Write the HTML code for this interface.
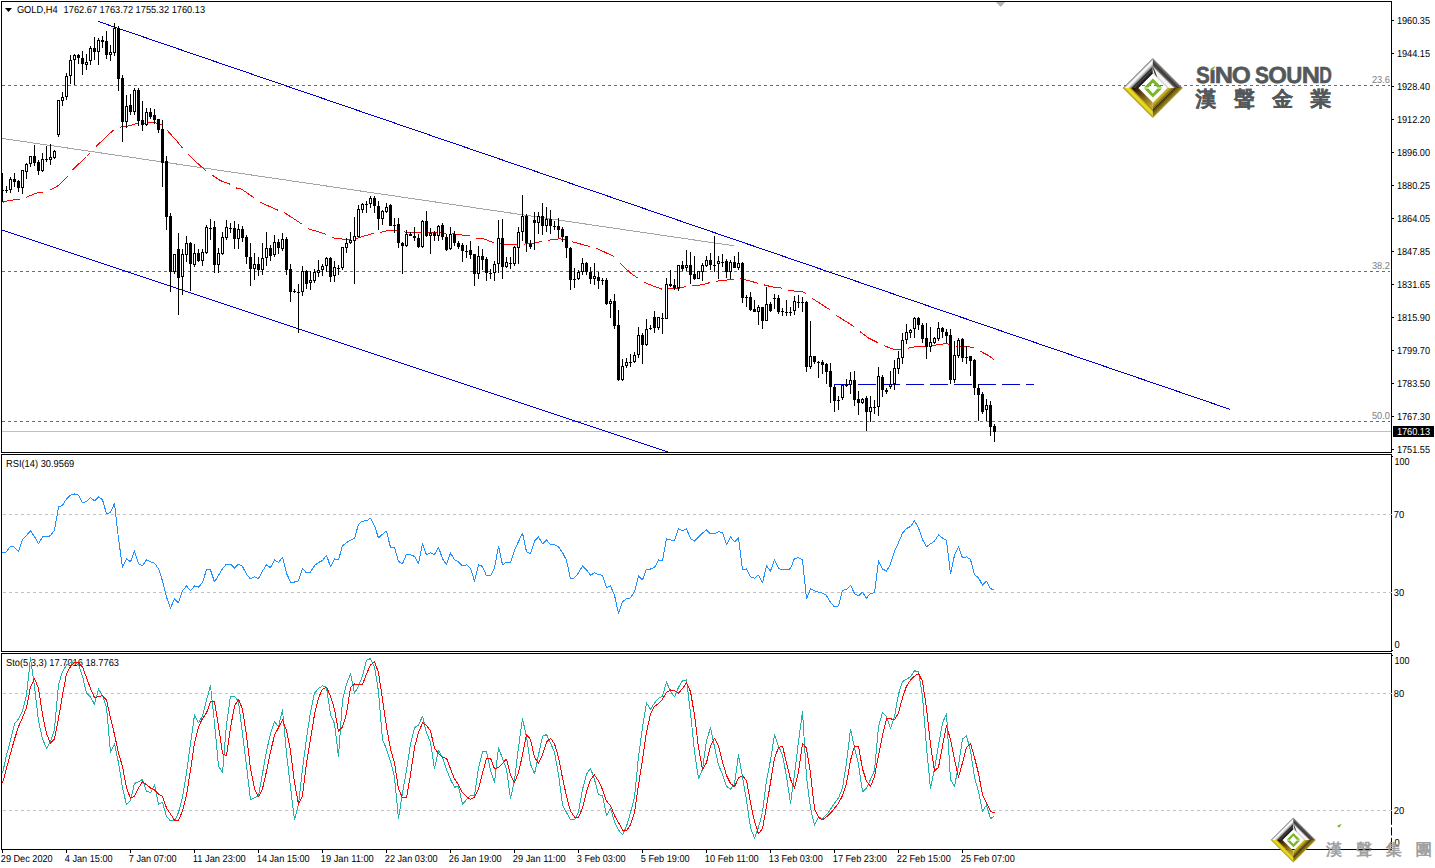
<!DOCTYPE html>
<html lang="zh-Hant"><head><meta charset="utf-8"><title>GOLD,H4</title>
<style>
html,body{margin:0;padding:0;background:#fff;}
body{width:1435px;height:868px;overflow:hidden;font-family:"Liberation Sans", Arial, sans-serif;}
svg{display:block;}
text{font-family:"Liberation Sans", Arial, sans-serif;text-rendering:geometricPrecision;}
</style></head><body>
<svg width="1435" height="868" viewBox="0 0 1435 868">
<rect width="1435" height="868" fill="#fff"/>
<g shape-rendering="crispEdges">
<rect x="1" y="1" width="1391" height="1" fill="#000"/>
<rect x="1" y="1" width="1" height="452" fill="#000"/>
<rect x="1" y="452" width="1391" height="1" fill="#000"/>
<rect x="1391" y="1" width="1" height="452" fill="#000"/>
<rect x="1391" y="454" width="1" height="198" fill="#000"/>
<rect x="1391" y="653" width="1" height="197" fill="#000"/>
<rect x="1" y="454" width="1391" height="1" fill="#000"/>
<rect x="1" y="454" width="1" height="198" fill="#000"/>
<rect x="1" y="651" width="1391" height="1" fill="#000"/>
<rect x="1" y="653" width="1391" height="1" fill="#000"/>
<rect x="1" y="653" width="1" height="197" fill="#000"/>
<rect x="1" y="849" width="1391" height="1" fill="#000"/>
</g>
<g shape-rendering="crispEdges">
<line x1="2" y1="85.5" x2="1390" y2="85.5" stroke="#6c6c6c" stroke-width="1" stroke-dasharray="3 3"/>
<line x1="2" y1="271.5" x2="1390" y2="271.5" stroke="#6c6c6c" stroke-width="1" stroke-dasharray="3 3"/>
<line x1="2" y1="421.5" x2="1390" y2="421.5" stroke="#6c6c6c" stroke-width="1" stroke-dasharray="3 3"/>
<rect x="2" y="431" width="1389" height="1" fill="#c0c0c0"/>
<line x1="3" y1="514.5" x2="1392" y2="514.5" stroke="#c0c0c0" stroke-width="1" stroke-dasharray="3 3"/>
<line x1="3" y1="592.5" x2="1392" y2="592.5" stroke="#c0c0c0" stroke-width="1" stroke-dasharray="3 3"/>
<line x1="3" y1="693.5" x2="1392" y2="693.5" stroke="#c0c0c0" stroke-width="1" stroke-dasharray="3 3"/>
<line x1="3" y1="810.5" x2="1392" y2="810.5" stroke="#c0c0c0" stroke-width="1" stroke-dasharray="3 3"/>
</g>
<g shape-rendering="crispEdges" fill="none">
<line x1="2" y1="138.4" x2="734" y2="245.8" stroke="#a4a4a4" stroke-width="1"/>
<line x1="98" y1="21.4" x2="1229.9" y2="409.3" stroke="#0000cd" stroke-width="1"/>
<line x1="2" y1="230" x2="667.6" y2="451.87" stroke="#0000cd" stroke-width="1"/>
<line x1="834" y1="384.5" x2="1034" y2="384.5" stroke="#0000cd" stroke-width="1" stroke-dasharray="18 6"/>
</g>
<g shape-rendering="crispEdges" fill="none" stroke="#ff0000" stroke-width="1">
<polyline points="2.5,202.3 4.5,201.7 6.5,201.1 8.5,200.5 10.5,200.3 12.5,200.1 14.5,199.8 16.5,199.6 18.5,199.4 19.5,199.3"/>
<polyline points="25.5,197.4 27.5,196.7 29.5,195.9 31.5,195.1 33.5,194.2 35.5,193.4 37.5,192.8 39.5,192.5 41.5,192.2 43.5,191.9 43.5,191.9"/>
<polyline points="49.5,190.2 51.5,189.3 53.5,188.2 55.5,187.1 57.5,186.0 59.5,184.4 61.4,182.5 63.3,180.6 65.2,178.6 67.1,176.7 67.6,176.2"/>
<polyline points="72.7,170.0 74.5,168.1 76.5,166.2 78.5,164.2 80.5,162.3 82.5,160.4 84.5,158.4 86.5,156.5 88.5,154.5 90.5,152.6 90.5,152.6"/>
<polyline points="96.1,146.6 98.0,144.6 99.9,142.8 101.9,140.9 103.8,139.0 105.8,137.2 107.7,135.3 109.7,133.5 111.7,131.8 113.6,130.1 114.1,129.7"/>
<polyline points="120.0,127.2 122.0,126.7 124.0,126.5 126.0,126.2 128.0,126.0 130.0,125.5 132.0,124.9 134.0,124.2 136.0,123.8 137.9,123.7 137.9,123.7"/>
<polyline points="143.8,123.2 145.8,123.0 147.7,122.8 149.7,122.8 151.7,122.8 153.7,122.8 155.7,122.9 157.6,123.5 159.5,124.0 161.5,124.5 161.9,124.6"/>
<polyline points="166.9,129.8 168.5,131.8 170.3,133.8 172.1,135.8 173.9,137.7 175.7,139.7 177.3,141.6 178.9,143.6 180.4,145.5 182.0,147.4 182.4,147.9"/>
<polyline points="188.0,154.1 189.8,156.0 191.7,157.8 193.7,159.6 195.6,161.4 197.6,163.3 199.5,165.1 201.5,166.8 203.4,168.4 205.3,170.0 205.8,170.3"/>
<polyline points="211.8,174.8 212.5,175.3 220.5,180.6 229.8,184.1"/>
<polyline points="235.8,187.6 237.5,188.6 241.5,189.1 253.8,197.6"/>
<polyline points="259.8,201.8 261.3,202.8 277.8,210.1"/>
<polyline points="283.8,212.6 285.5,213.3 301.8,224.0"/>
<polyline points="307.8,228.0 309.5,229.1 325.8,234.2"/>
<polyline points="331.8,237.0 333.5,237.9 340.5,238.8 349.8,240.0"/>
<polyline points="355.8,238.6 357.9,237.9 373.8,233.2"/>
<polyline points="379.8,232.3 381.5,232.1 387.9,230.4 397.8,230.4"/>
<polyline points="403.8,231.6 405.7,232.1 417.2,232.1 421.8,232.1"/>
<polyline points="427.8,232.1 429.5,232.1 445.8,233.1"/>
<polyline points="451.8,233.7 454.1,233.9 463.1,235.1 469.8,235.8"/>
<polyline points="475.8,237.9 477.8,238.8 484.1,239.0 493.8,242.7"/>
<polyline points="499.8,243.7 501.5,243.9 507.7,244.9 517.8,244.9"/>
<polyline points="523.8,244.2 525.6,243.9 532.8,243.5 536.8,242.1 541.8,241.9"/>
<polyline points="547.8,240.6 549.7,240.0 558.4,238.9 565.8,239.2"/>
<polyline points="571.8,241.4 573.4,242.1 589.8,246.5"/>
<polyline points="595.8,248.3 597.7,248.8 613.8,256.4"/>
<polyline points="619.8,262.5 620.8,263.7 630.8,273.4 637.8,278.0"/>
<polyline points="643.8,281.9 644.8,282.5 653.1,286.0 661.8,289.1"/>
<polyline points="667.8,288.9 668.5,288.9 678.2,288.3 685.8,286.7"/>
<polyline points="691.8,286.1 692.5,286.0 703.3,284.6 709.8,282.6"/>
<polyline points="715.8,281.3 716.6,281.1 724.2,280.4 730.5,279.4 733.8,279.1"/>
<polyline points="739.8,278.7 740.7,278.7 757.8,283.1"/>
<polyline points="763.8,284.8 764.8,285.1 772.1,286.9 781.8,288.1"/>
<polyline points="787.8,290.0 788.5,290.2 794.4,291.1 802.7,291.8 805.8,293.7"/>
<polyline points="811.8,298.0 812.5,298.5 829.8,309.7"/>
<polyline points="835.8,314.8 836.9,315.8 853.8,326.4"/>
<polyline points="859.8,331.4 860.5,332.0 868.2,337.8 877.8,342.6"/>
<polyline points="883.8,345.5 884.7,345.9 893.3,349.2 901.7,350.1 901.8,350.1"/>
<polyline points="907.8,348.3 908.7,348.0 918.1,346.1 925.8,346.1"/>
<polyline points="931.8,345.5 936.5,345.0 946.5,343.5 949.5,344.5 949.8,344.6"/>
<polyline points="955.8,345.9 956.5,346.1 967.2,346.5 973.8,347.7"/>
<polyline points="979.8,351.0 980.7,351.5 988.7,355.7 994.3,360.0"/>
</g>
<g shape-rendering="crispEdges">
<rect x="2" y="173" width="1" height="29" fill="#000"/>
<rect x="3" y="190" width="1" height="1" fill="#000"/>
<rect x="6" y="186" width="1" height="7" fill="#000"/>
<rect x="5" y="190" width="3" height="1" fill="#000"/>
<rect x="10" y="177" width="1" height="16" fill="#000"/>
<rect x="9" y="179" width="3" height="11" fill="#000"/>
<rect x="10" y="180" width="1" height="9" fill="#fff"/>
<rect x="14" y="173" width="1" height="14" fill="#000"/>
<rect x="13" y="179" width="3" height="3" fill="#000"/>
<rect x="18" y="180" width="1" height="12" fill="#000"/>
<rect x="17" y="181" width="3" height="7" fill="#000"/>
<rect x="22" y="170" width="1" height="24" fill="#000"/>
<rect x="21" y="170" width="3" height="18" fill="#000"/>
<rect x="22" y="171" width="1" height="16" fill="#fff"/>
<rect x="26" y="163" width="1" height="16" fill="#000"/>
<rect x="25" y="164" width="3" height="8" fill="#000"/>
<rect x="26" y="165" width="1" height="6" fill="#fff"/>
<rect x="30" y="156" width="1" height="11" fill="#000"/>
<rect x="29" y="156" width="3" height="8" fill="#000"/>
<rect x="30" y="157" width="1" height="6" fill="#fff"/>
<rect x="34" y="145" width="1" height="21" fill="#000"/>
<rect x="33" y="156" width="3" height="7" fill="#000"/>
<rect x="38" y="160" width="1" height="15" fill="#000"/>
<rect x="37" y="162" width="3" height="9" fill="#000"/>
<rect x="42" y="153" width="1" height="19" fill="#000"/>
<rect x="41" y="159" width="3" height="12" fill="#000"/>
<rect x="42" y="160" width="1" height="10" fill="#fff"/>
<rect x="46" y="146" width="1" height="16" fill="#000"/>
<rect x="45" y="159" width="3" height="1" fill="#000"/>
<rect x="50" y="144" width="1" height="21" fill="#000"/>
<rect x="49" y="157" width="3" height="3" fill="#000"/>
<rect x="50" y="158" width="1" height="1" fill="#fff"/>
<rect x="54" y="150" width="1" height="9" fill="#000"/>
<rect x="53" y="151" width="3" height="7" fill="#000"/>
<rect x="54" y="152" width="1" height="5" fill="#fff"/>
<rect x="58" y="100" width="1" height="37" fill="#000"/>
<rect x="57" y="100" width="3" height="35" fill="#000"/>
<rect x="58" y="101" width="1" height="33" fill="#fff"/>
<rect x="62" y="92" width="1" height="14" fill="#000"/>
<rect x="61" y="97" width="3" height="4" fill="#000"/>
<rect x="62" y="98" width="1" height="2" fill="#fff"/>
<rect x="66" y="73" width="1" height="27" fill="#000"/>
<rect x="65" y="76" width="3" height="21" fill="#000"/>
<rect x="66" y="77" width="1" height="19" fill="#fff"/>
<rect x="70" y="55" width="1" height="29" fill="#000"/>
<rect x="69" y="60" width="3" height="16" fill="#000"/>
<rect x="70" y="61" width="1" height="14" fill="#fff"/>
<rect x="74" y="54" width="1" height="31" fill="#000"/>
<rect x="73" y="55" width="3" height="5" fill="#000"/>
<rect x="74" y="56" width="1" height="3" fill="#fff"/>
<rect x="78" y="54" width="1" height="10" fill="#000"/>
<rect x="77" y="55" width="3" height="3" fill="#000"/>
<rect x="82" y="51" width="1" height="24" fill="#000"/>
<rect x="81" y="58" width="3" height="6" fill="#000"/>
<rect x="86" y="54" width="1" height="16" fill="#000"/>
<rect x="85" y="62" width="3" height="3" fill="#000"/>
<rect x="86" y="63" width="1" height="1" fill="#fff"/>
<rect x="90" y="46" width="1" height="19" fill="#000"/>
<rect x="89" y="48" width="3" height="13" fill="#000"/>
<rect x="90" y="49" width="1" height="11" fill="#fff"/>
<rect x="94" y="37" width="1" height="23" fill="#000"/>
<rect x="93" y="48" width="3" height="4" fill="#000"/>
<rect x="98" y="38" width="1" height="27" fill="#000"/>
<rect x="97" y="40" width="3" height="12" fill="#000"/>
<rect x="98" y="41" width="1" height="10" fill="#fff"/>
<rect x="102" y="36" width="1" height="12" fill="#000"/>
<rect x="101" y="40" width="3" height="2" fill="#000"/>
<rect x="106" y="31" width="1" height="28" fill="#000"/>
<rect x="105" y="41" width="3" height="14" fill="#000"/>
<rect x="110" y="45" width="1" height="16" fill="#000"/>
<rect x="109" y="52" width="3" height="3" fill="#000"/>
<rect x="110" y="53" width="1" height="1" fill="#fff"/>
<rect x="114" y="23" width="1" height="33" fill="#000"/>
<rect x="113" y="28" width="3" height="25" fill="#000"/>
<rect x="114" y="29" width="1" height="23" fill="#fff"/>
<rect x="118" y="26" width="1" height="65" fill="#000"/>
<rect x="117" y="28" width="3" height="51" fill="#000"/>
<rect x="122" y="75" width="1" height="67" fill="#000"/>
<rect x="121" y="78" width="3" height="44" fill="#000"/>
<rect x="126" y="95" width="1" height="33" fill="#000"/>
<rect x="125" y="106" width="3" height="16" fill="#000"/>
<rect x="126" y="107" width="1" height="14" fill="#fff"/>
<rect x="130" y="94" width="1" height="21" fill="#000"/>
<rect x="129" y="105" width="3" height="7" fill="#000"/>
<rect x="134" y="88" width="1" height="27" fill="#000"/>
<rect x="133" y="90" width="3" height="22" fill="#000"/>
<rect x="134" y="91" width="1" height="20" fill="#fff"/>
<rect x="138" y="88" width="1" height="38" fill="#000"/>
<rect x="137" y="90" width="3" height="31" fill="#000"/>
<rect x="142" y="101" width="1" height="30" fill="#000"/>
<rect x="141" y="120" width="3" height="5" fill="#000"/>
<rect x="146" y="108" width="1" height="18" fill="#000"/>
<rect x="145" y="112" width="3" height="13" fill="#000"/>
<rect x="146" y="113" width="1" height="11" fill="#fff"/>
<rect x="150" y="108" width="1" height="11" fill="#000"/>
<rect x="149" y="112" width="3" height="5" fill="#000"/>
<rect x="154" y="109" width="1" height="15" fill="#000"/>
<rect x="153" y="115" width="3" height="5" fill="#000"/>
<rect x="158" y="119" width="1" height="14" fill="#000"/>
<rect x="157" y="119" width="3" height="11" fill="#000"/>
<rect x="162" y="120" width="1" height="67" fill="#000"/>
<rect x="161" y="129" width="3" height="34" fill="#000"/>
<rect x="166" y="156" width="1" height="74" fill="#000"/>
<rect x="165" y="161" width="3" height="56" fill="#000"/>
<rect x="170" y="213" width="1" height="79" fill="#000"/>
<rect x="169" y="216" width="3" height="56" fill="#000"/>
<rect x="174" y="254" width="1" height="20" fill="#000"/>
<rect x="173" y="254" width="3" height="18" fill="#000"/>
<rect x="174" y="255" width="1" height="16" fill="#fff"/>
<rect x="178" y="233" width="1" height="82" fill="#000"/>
<rect x="177" y="249" width="3" height="29" fill="#000"/>
<rect x="182" y="249" width="1" height="46" fill="#000"/>
<rect x="181" y="254" width="3" height="23" fill="#000"/>
<rect x="182" y="255" width="1" height="21" fill="#fff"/>
<rect x="186" y="236" width="1" height="26" fill="#000"/>
<rect x="185" y="243" width="3" height="12" fill="#000"/>
<rect x="186" y="244" width="1" height="10" fill="#fff"/>
<rect x="190" y="242" width="1" height="49" fill="#000"/>
<rect x="189" y="243" width="3" height="21" fill="#000"/>
<rect x="194" y="244" width="1" height="23" fill="#000"/>
<rect x="193" y="253" width="3" height="12" fill="#000"/>
<rect x="194" y="254" width="1" height="10" fill="#fff"/>
<rect x="198" y="249" width="1" height="13" fill="#000"/>
<rect x="197" y="253" width="3" height="8" fill="#000"/>
<rect x="202" y="249" width="1" height="17" fill="#000"/>
<rect x="201" y="252" width="3" height="9" fill="#000"/>
<rect x="202" y="253" width="1" height="7" fill="#fff"/>
<rect x="206" y="225" width="1" height="29" fill="#000"/>
<rect x="205" y="227" width="3" height="26" fill="#000"/>
<rect x="206" y="228" width="1" height="24" fill="#fff"/>
<rect x="210" y="219" width="1" height="21" fill="#000"/>
<rect x="209" y="228" width="3" height="1" fill="#000"/>
<rect x="214" y="221" width="1" height="52" fill="#000"/>
<rect x="213" y="227" width="3" height="38" fill="#000"/>
<rect x="218" y="248" width="1" height="25" fill="#000"/>
<rect x="217" y="253" width="3" height="12" fill="#000"/>
<rect x="218" y="254" width="1" height="10" fill="#fff"/>
<rect x="222" y="232" width="1" height="23" fill="#000"/>
<rect x="221" y="237" width="3" height="17" fill="#000"/>
<rect x="222" y="238" width="1" height="15" fill="#fff"/>
<rect x="226" y="220" width="1" height="20" fill="#000"/>
<rect x="225" y="227" width="3" height="11" fill="#000"/>
<rect x="226" y="228" width="1" height="9" fill="#fff"/>
<rect x="230" y="223" width="1" height="10" fill="#000"/>
<rect x="229" y="228" width="3" height="1" fill="#000"/>
<rect x="234" y="221" width="1" height="28" fill="#000"/>
<rect x="233" y="228" width="3" height="11" fill="#000"/>
<rect x="238" y="224" width="1" height="25" fill="#000"/>
<rect x="237" y="229" width="3" height="10" fill="#000"/>
<rect x="238" y="230" width="1" height="8" fill="#fff"/>
<rect x="242" y="226" width="1" height="16" fill="#000"/>
<rect x="241" y="229" width="3" height="9" fill="#000"/>
<rect x="246" y="235" width="1" height="29" fill="#000"/>
<rect x="245" y="237" width="3" height="20" fill="#000"/>
<rect x="250" y="243" width="1" height="43" fill="#000"/>
<rect x="249" y="257" width="3" height="12" fill="#000"/>
<rect x="254" y="253" width="1" height="27" fill="#000"/>
<rect x="253" y="264" width="3" height="5" fill="#000"/>
<rect x="254" y="265" width="1" height="3" fill="#fff"/>
<rect x="258" y="257" width="1" height="19" fill="#000"/>
<rect x="257" y="264" width="3" height="6" fill="#000"/>
<rect x="262" y="243" width="1" height="32" fill="#000"/>
<rect x="261" y="258" width="3" height="12" fill="#000"/>
<rect x="262" y="259" width="1" height="10" fill="#fff"/>
<rect x="266" y="232" width="1" height="34" fill="#000"/>
<rect x="265" y="248" width="3" height="10" fill="#000"/>
<rect x="266" y="249" width="1" height="8" fill="#fff"/>
<rect x="270" y="245" width="1" height="16" fill="#000"/>
<rect x="269" y="248" width="3" height="8" fill="#000"/>
<rect x="274" y="235" width="1" height="22" fill="#000"/>
<rect x="273" y="242" width="3" height="13" fill="#000"/>
<rect x="274" y="243" width="1" height="11" fill="#fff"/>
<rect x="278" y="239" width="1" height="15" fill="#000"/>
<rect x="277" y="242" width="3" height="6" fill="#000"/>
<rect x="282" y="233" width="1" height="18" fill="#000"/>
<rect x="281" y="239" width="3" height="10" fill="#000"/>
<rect x="282" y="240" width="1" height="8" fill="#fff"/>
<rect x="286" y="237" width="1" height="38" fill="#000"/>
<rect x="285" y="239" width="3" height="31" fill="#000"/>
<rect x="290" y="264" width="1" height="38" fill="#000"/>
<rect x="289" y="269" width="3" height="23" fill="#000"/>
<rect x="294" y="289" width="1" height="4" fill="#000"/>
<rect x="293" y="291" width="3" height="1" fill="#000"/>
<rect x="298" y="284" width="1" height="49" fill="#000"/>
<rect x="297" y="292" width="3" height="1" fill="#000"/>
<rect x="302" y="266" width="1" height="30" fill="#000"/>
<rect x="301" y="271" width="3" height="21" fill="#000"/>
<rect x="302" y="272" width="1" height="19" fill="#fff"/>
<rect x="306" y="270" width="1" height="19" fill="#000"/>
<rect x="305" y="271" width="3" height="13" fill="#000"/>
<rect x="310" y="271" width="1" height="19" fill="#000"/>
<rect x="309" y="280" width="3" height="3" fill="#000"/>
<rect x="310" y="281" width="1" height="1" fill="#fff"/>
<rect x="314" y="269" width="1" height="14" fill="#000"/>
<rect x="313" y="272" width="3" height="9" fill="#000"/>
<rect x="314" y="273" width="1" height="7" fill="#fff"/>
<rect x="318" y="260" width="1" height="17" fill="#000"/>
<rect x="317" y="270" width="3" height="3" fill="#000"/>
<rect x="318" y="271" width="1" height="1" fill="#fff"/>
<rect x="322" y="264" width="1" height="12" fill="#000"/>
<rect x="321" y="266" width="3" height="4" fill="#000"/>
<rect x="322" y="267" width="1" height="2" fill="#fff"/>
<rect x="326" y="257" width="1" height="15" fill="#000"/>
<rect x="325" y="258" width="3" height="8" fill="#000"/>
<rect x="326" y="259" width="1" height="6" fill="#fff"/>
<rect x="330" y="257" width="1" height="25" fill="#000"/>
<rect x="329" y="258" width="3" height="19" fill="#000"/>
<rect x="334" y="261" width="1" height="21" fill="#000"/>
<rect x="333" y="267" width="3" height="9" fill="#000"/>
<rect x="334" y="268" width="1" height="7" fill="#fff"/>
<rect x="338" y="265" width="1" height="10" fill="#000"/>
<rect x="337" y="268" width="3" height="1" fill="#000"/>
<rect x="342" y="247" width="1" height="23" fill="#000"/>
<rect x="341" y="247" width="3" height="21" fill="#000"/>
<rect x="342" y="248" width="1" height="19" fill="#fff"/>
<rect x="346" y="238" width="1" height="15" fill="#000"/>
<rect x="345" y="243" width="3" height="5" fill="#000"/>
<rect x="346" y="244" width="1" height="3" fill="#fff"/>
<rect x="350" y="232" width="1" height="12" fill="#000"/>
<rect x="349" y="240" width="3" height="3" fill="#000"/>
<rect x="350" y="241" width="1" height="1" fill="#fff"/>
<rect x="354" y="217" width="1" height="67" fill="#000"/>
<rect x="353" y="236" width="3" height="5" fill="#000"/>
<rect x="354" y="237" width="1" height="3" fill="#fff"/>
<rect x="358" y="205" width="1" height="32" fill="#000"/>
<rect x="357" y="209" width="3" height="28" fill="#000"/>
<rect x="358" y="210" width="1" height="26" fill="#fff"/>
<rect x="362" y="203" width="1" height="10" fill="#000"/>
<rect x="361" y="204" width="3" height="6" fill="#000"/>
<rect x="362" y="205" width="1" height="4" fill="#fff"/>
<rect x="366" y="201" width="1" height="12" fill="#000"/>
<rect x="365" y="204" width="3" height="1" fill="#000"/>
<rect x="370" y="196" width="1" height="12" fill="#000"/>
<rect x="369" y="198" width="3" height="6" fill="#000"/>
<rect x="370" y="199" width="1" height="4" fill="#fff"/>
<rect x="374" y="196" width="1" height="17" fill="#000"/>
<rect x="373" y="198" width="3" height="8" fill="#000"/>
<rect x="378" y="201" width="1" height="29" fill="#000"/>
<rect x="377" y="206" width="3" height="13" fill="#000"/>
<rect x="382" y="210" width="1" height="15" fill="#000"/>
<rect x="381" y="211" width="3" height="8" fill="#000"/>
<rect x="382" y="212" width="1" height="6" fill="#fff"/>
<rect x="386" y="203" width="1" height="10" fill="#000"/>
<rect x="385" y="207" width="3" height="5" fill="#000"/>
<rect x="386" y="208" width="1" height="3" fill="#fff"/>
<rect x="390" y="204" width="1" height="22" fill="#000"/>
<rect x="389" y="205" width="3" height="21" fill="#000"/>
<rect x="394" y="218" width="1" height="15" fill="#000"/>
<rect x="393" y="225" width="3" height="1" fill="#000"/>
<rect x="398" y="218" width="1" height="30" fill="#000"/>
<rect x="397" y="224" width="3" height="19" fill="#000"/>
<rect x="402" y="242" width="1" height="32" fill="#000"/>
<rect x="401" y="243" width="3" height="3" fill="#000"/>
<rect x="406" y="230" width="1" height="17" fill="#000"/>
<rect x="405" y="234" width="3" height="12" fill="#000"/>
<rect x="406" y="235" width="1" height="10" fill="#fff"/>
<rect x="410" y="232" width="1" height="4" fill="#000"/>
<rect x="409" y="234" width="3" height="2" fill="#000"/>
<rect x="414" y="227" width="1" height="14" fill="#000"/>
<rect x="413" y="236" width="3" height="2" fill="#000"/>
<rect x="418" y="234" width="1" height="14" fill="#000"/>
<rect x="417" y="238" width="3" height="9" fill="#000"/>
<rect x="422" y="220" width="1" height="28" fill="#000"/>
<rect x="421" y="221" width="3" height="26" fill="#000"/>
<rect x="422" y="222" width="1" height="24" fill="#fff"/>
<rect x="426" y="211" width="1" height="26" fill="#000"/>
<rect x="425" y="221" width="3" height="15" fill="#000"/>
<rect x="430" y="228" width="1" height="26" fill="#000"/>
<rect x="429" y="233" width="3" height="3" fill="#000"/>
<rect x="430" y="234" width="1" height="1" fill="#fff"/>
<rect x="434" y="231" width="1" height="10" fill="#000"/>
<rect x="433" y="233" width="3" height="3" fill="#000"/>
<rect x="438" y="225" width="1" height="16" fill="#000"/>
<rect x="437" y="226" width="3" height="10" fill="#000"/>
<rect x="438" y="227" width="1" height="8" fill="#fff"/>
<rect x="442" y="223" width="1" height="17" fill="#000"/>
<rect x="441" y="225" width="3" height="12" fill="#000"/>
<rect x="446" y="234" width="1" height="17" fill="#000"/>
<rect x="445" y="237" width="3" height="13" fill="#000"/>
<rect x="450" y="227" width="1" height="23" fill="#000"/>
<rect x="449" y="234" width="3" height="15" fill="#000"/>
<rect x="450" y="235" width="1" height="13" fill="#fff"/>
<rect x="454" y="231" width="1" height="15" fill="#000"/>
<rect x="453" y="234" width="3" height="9" fill="#000"/>
<rect x="458" y="241" width="1" height="8" fill="#000"/>
<rect x="457" y="243" width="3" height="4" fill="#000"/>
<rect x="462" y="243" width="1" height="19" fill="#000"/>
<rect x="461" y="245" width="3" height="6" fill="#000"/>
<rect x="466" y="245" width="1" height="13" fill="#000"/>
<rect x="465" y="251" width="3" height="1" fill="#000"/>
<rect x="470" y="241" width="1" height="18" fill="#000"/>
<rect x="469" y="250" width="3" height="5" fill="#000"/>
<rect x="474" y="254" width="1" height="32" fill="#000"/>
<rect x="473" y="254" width="3" height="20" fill="#000"/>
<rect x="478" y="246" width="1" height="33" fill="#000"/>
<rect x="477" y="256" width="3" height="18" fill="#000"/>
<rect x="478" y="257" width="1" height="16" fill="#fff"/>
<rect x="482" y="249" width="1" height="21" fill="#000"/>
<rect x="481" y="256" width="3" height="4" fill="#000"/>
<rect x="486" y="257" width="1" height="24" fill="#000"/>
<rect x="485" y="259" width="3" height="14" fill="#000"/>
<rect x="490" y="269" width="1" height="10" fill="#000"/>
<rect x="489" y="273" width="3" height="1" fill="#000"/>
<rect x="494" y="261" width="1" height="20" fill="#000"/>
<rect x="493" y="264" width="3" height="9" fill="#000"/>
<rect x="494" y="265" width="1" height="7" fill="#fff"/>
<rect x="498" y="220" width="1" height="53" fill="#000"/>
<rect x="497" y="238" width="3" height="26" fill="#000"/>
<rect x="498" y="239" width="1" height="24" fill="#fff"/>
<rect x="502" y="219" width="1" height="60" fill="#000"/>
<rect x="501" y="238" width="3" height="29" fill="#000"/>
<rect x="506" y="257" width="1" height="11" fill="#000"/>
<rect x="505" y="262" width="3" height="5" fill="#000"/>
<rect x="506" y="263" width="1" height="3" fill="#fff"/>
<rect x="510" y="257" width="1" height="12" fill="#000"/>
<rect x="509" y="263" width="3" height="1" fill="#000"/>
<rect x="514" y="246" width="1" height="20" fill="#000"/>
<rect x="513" y="247" width="3" height="17" fill="#000"/>
<rect x="514" y="248" width="1" height="15" fill="#fff"/>
<rect x="518" y="227" width="1" height="37" fill="#000"/>
<rect x="517" y="232" width="3" height="16" fill="#000"/>
<rect x="518" y="233" width="1" height="14" fill="#fff"/>
<rect x="522" y="195" width="1" height="46" fill="#000"/>
<rect x="521" y="216" width="3" height="16" fill="#000"/>
<rect x="522" y="217" width="1" height="14" fill="#fff"/>
<rect x="526" y="214" width="1" height="38" fill="#000"/>
<rect x="525" y="216" width="3" height="27" fill="#000"/>
<rect x="530" y="240" width="1" height="9" fill="#000"/>
<rect x="529" y="244" width="3" height="3" fill="#000"/>
<rect x="534" y="212" width="1" height="38" fill="#000"/>
<rect x="533" y="220" width="3" height="3" fill="#000"/>
<rect x="538" y="212" width="1" height="22" fill="#000"/>
<rect x="537" y="216" width="3" height="7" fill="#000"/>
<rect x="538" y="217" width="1" height="5" fill="#fff"/>
<rect x="542" y="203" width="1" height="32" fill="#000"/>
<rect x="541" y="216" width="3" height="10" fill="#000"/>
<rect x="546" y="207" width="1" height="25" fill="#000"/>
<rect x="545" y="219" width="3" height="7" fill="#000"/>
<rect x="546" y="220" width="1" height="5" fill="#fff"/>
<rect x="550" y="210" width="1" height="24" fill="#000"/>
<rect x="549" y="219" width="3" height="7" fill="#000"/>
<rect x="554" y="221" width="1" height="9" fill="#000"/>
<rect x="553" y="226" width="3" height="1" fill="#000"/>
<rect x="558" y="218" width="1" height="20" fill="#000"/>
<rect x="557" y="226" width="3" height="4" fill="#000"/>
<rect x="562" y="227" width="1" height="15" fill="#000"/>
<rect x="561" y="229" width="3" height="8" fill="#000"/>
<rect x="566" y="236" width="1" height="22" fill="#000"/>
<rect x="565" y="236" width="3" height="12" fill="#000"/>
<rect x="570" y="247" width="1" height="43" fill="#000"/>
<rect x="569" y="248" width="3" height="32" fill="#000"/>
<rect x="574" y="268" width="1" height="20" fill="#000"/>
<rect x="573" y="279" width="3" height="1" fill="#000"/>
<rect x="578" y="270" width="1" height="10" fill="#000"/>
<rect x="577" y="272" width="3" height="7" fill="#000"/>
<rect x="578" y="273" width="1" height="5" fill="#fff"/>
<rect x="582" y="258" width="1" height="17" fill="#000"/>
<rect x="581" y="263" width="3" height="9" fill="#000"/>
<rect x="582" y="264" width="1" height="7" fill="#fff"/>
<rect x="586" y="262" width="1" height="13" fill="#000"/>
<rect x="585" y="263" width="3" height="9" fill="#000"/>
<rect x="590" y="267" width="1" height="17" fill="#000"/>
<rect x="589" y="272" width="3" height="7" fill="#000"/>
<rect x="594" y="263" width="1" height="22" fill="#000"/>
<rect x="593" y="276" width="3" height="3" fill="#000"/>
<rect x="594" y="277" width="1" height="1" fill="#fff"/>
<rect x="598" y="272" width="1" height="17" fill="#000"/>
<rect x="597" y="277" width="3" height="4" fill="#000"/>
<rect x="602" y="278" width="1" height="7" fill="#000"/>
<rect x="601" y="280" width="3" height="1" fill="#000"/>
<rect x="606" y="278" width="1" height="27" fill="#000"/>
<rect x="605" y="280" width="3" height="24" fill="#000"/>
<rect x="610" y="299" width="1" height="19" fill="#000"/>
<rect x="609" y="301" width="3" height="3" fill="#000"/>
<rect x="610" y="302" width="1" height="1" fill="#fff"/>
<rect x="614" y="294" width="1" height="35" fill="#000"/>
<rect x="613" y="301" width="3" height="25" fill="#000"/>
<rect x="618" y="310" width="1" height="71" fill="#000"/>
<rect x="617" y="325" width="3" height="55" fill="#000"/>
<rect x="622" y="359" width="1" height="22" fill="#000"/>
<rect x="621" y="366" width="3" height="14" fill="#000"/>
<rect x="622" y="367" width="1" height="12" fill="#fff"/>
<rect x="626" y="358" width="1" height="10" fill="#000"/>
<rect x="625" y="362" width="3" height="4" fill="#000"/>
<rect x="626" y="363" width="1" height="2" fill="#fff"/>
<rect x="630" y="354" width="1" height="13" fill="#000"/>
<rect x="629" y="362" width="3" height="1" fill="#000"/>
<rect x="634" y="352" width="1" height="11" fill="#000"/>
<rect x="633" y="355" width="3" height="7" fill="#000"/>
<rect x="634" y="356" width="1" height="5" fill="#fff"/>
<rect x="638" y="327" width="1" height="31" fill="#000"/>
<rect x="637" y="335" width="3" height="20" fill="#000"/>
<rect x="638" y="336" width="1" height="18" fill="#fff"/>
<rect x="642" y="333" width="1" height="31" fill="#000"/>
<rect x="641" y="335" width="3" height="10" fill="#000"/>
<rect x="646" y="319" width="1" height="27" fill="#000"/>
<rect x="645" y="329" width="3" height="16" fill="#000"/>
<rect x="646" y="330" width="1" height="14" fill="#fff"/>
<rect x="650" y="325" width="1" height="5" fill="#000"/>
<rect x="649" y="328" width="3" height="1" fill="#000"/>
<rect x="654" y="311" width="1" height="22" fill="#000"/>
<rect x="653" y="317" width="3" height="11" fill="#000"/>
<rect x="658" y="317" width="1" height="13" fill="#000"/>
<rect x="657" y="317" width="3" height="11" fill="#000"/>
<rect x="658" y="318" width="1" height="9" fill="#fff"/>
<rect x="662" y="313" width="1" height="21" fill="#000"/>
<rect x="661" y="318" width="3" height="1" fill="#000"/>
<rect x="666" y="278" width="1" height="41" fill="#000"/>
<rect x="665" y="284" width="3" height="35" fill="#000"/>
<rect x="666" y="285" width="1" height="33" fill="#fff"/>
<rect x="670" y="270" width="1" height="17" fill="#000"/>
<rect x="669" y="284" width="3" height="2" fill="#000"/>
<rect x="674" y="279" width="1" height="11" fill="#000"/>
<rect x="673" y="285" width="3" height="3" fill="#000"/>
<rect x="678" y="265" width="1" height="26" fill="#000"/>
<rect x="677" y="265" width="3" height="23" fill="#000"/>
<rect x="678" y="266" width="1" height="21" fill="#fff"/>
<rect x="682" y="261" width="1" height="10" fill="#000"/>
<rect x="681" y="265" width="3" height="4" fill="#000"/>
<rect x="686" y="250" width="1" height="21" fill="#000"/>
<rect x="685" y="265" width="3" height="3" fill="#000"/>
<rect x="686" y="266" width="1" height="1" fill="#fff"/>
<rect x="690" y="252" width="1" height="32" fill="#000"/>
<rect x="689" y="265" width="3" height="10" fill="#000"/>
<rect x="694" y="256" width="1" height="24" fill="#000"/>
<rect x="693" y="274" width="3" height="5" fill="#000"/>
<rect x="698" y="271" width="1" height="8" fill="#000"/>
<rect x="697" y="271" width="3" height="8" fill="#000"/>
<rect x="698" y="272" width="1" height="6" fill="#fff"/>
<rect x="702" y="263" width="1" height="18" fill="#000"/>
<rect x="701" y="265" width="3" height="7" fill="#000"/>
<rect x="702" y="266" width="1" height="5" fill="#fff"/>
<rect x="706" y="256" width="1" height="11" fill="#000"/>
<rect x="705" y="260" width="3" height="6" fill="#000"/>
<rect x="706" y="261" width="1" height="4" fill="#fff"/>
<rect x="710" y="253" width="1" height="17" fill="#000"/>
<rect x="709" y="260" width="3" height="5" fill="#000"/>
<rect x="714" y="236" width="1" height="36" fill="#000"/>
<rect x="713" y="265" width="3" height="1" fill="#000"/>
<rect x="718" y="256" width="1" height="23" fill="#000"/>
<rect x="717" y="261" width="3" height="3" fill="#000"/>
<rect x="718" y="262" width="1" height="1" fill="#fff"/>
<rect x="722" y="254" width="1" height="13" fill="#000"/>
<rect x="721" y="262" width="3" height="1" fill="#000"/>
<rect x="726" y="259" width="1" height="19" fill="#000"/>
<rect x="725" y="261" width="3" height="11" fill="#000"/>
<rect x="730" y="260" width="1" height="19" fill="#000"/>
<rect x="729" y="262" width="3" height="10" fill="#000"/>
<rect x="730" y="263" width="1" height="8" fill="#fff"/>
<rect x="734" y="256" width="1" height="12" fill="#000"/>
<rect x="733" y="262" width="3" height="6" fill="#000"/>
<rect x="738" y="252" width="1" height="18" fill="#000"/>
<rect x="737" y="263" width="3" height="5" fill="#000"/>
<rect x="738" y="264" width="1" height="3" fill="#fff"/>
<rect x="742" y="262" width="1" height="41" fill="#000"/>
<rect x="741" y="263" width="3" height="35" fill="#000"/>
<rect x="746" y="295" width="1" height="12" fill="#000"/>
<rect x="745" y="297" width="3" height="1" fill="#000"/>
<rect x="750" y="292" width="1" height="19" fill="#000"/>
<rect x="749" y="297" width="3" height="13" fill="#000"/>
<rect x="754" y="300" width="1" height="12" fill="#000"/>
<rect x="753" y="309" width="3" height="3" fill="#000"/>
<rect x="758" y="305" width="1" height="20" fill="#000"/>
<rect x="757" y="307" width="3" height="5" fill="#000"/>
<rect x="758" y="308" width="1" height="3" fill="#fff"/>
<rect x="762" y="307" width="1" height="22" fill="#000"/>
<rect x="761" y="307" width="3" height="14" fill="#000"/>
<rect x="766" y="287" width="1" height="34" fill="#000"/>
<rect x="765" y="304" width="3" height="17" fill="#000"/>
<rect x="766" y="305" width="1" height="15" fill="#fff"/>
<rect x="770" y="302" width="1" height="10" fill="#000"/>
<rect x="769" y="304" width="3" height="7" fill="#000"/>
<rect x="774" y="294" width="1" height="15" fill="#000"/>
<rect x="773" y="298" width="3" height="1" fill="#000"/>
<rect x="778" y="295" width="1" height="19" fill="#000"/>
<rect x="777" y="298" width="3" height="14" fill="#000"/>
<rect x="782" y="308" width="1" height="8" fill="#000"/>
<rect x="781" y="311" width="3" height="1" fill="#000"/>
<rect x="786" y="300" width="1" height="16" fill="#000"/>
<rect x="785" y="312" width="3" height="1" fill="#000"/>
<rect x="790" y="307" width="1" height="9" fill="#000"/>
<rect x="789" y="312" width="3" height="1" fill="#000"/>
<rect x="794" y="296" width="1" height="19" fill="#000"/>
<rect x="793" y="301" width="3" height="10" fill="#000"/>
<rect x="794" y="302" width="1" height="8" fill="#fff"/>
<rect x="798" y="295" width="1" height="13" fill="#000"/>
<rect x="797" y="302" width="3" height="1" fill="#000"/>
<rect x="802" y="297" width="1" height="15" fill="#000"/>
<rect x="801" y="302" width="3" height="1" fill="#000"/>
<rect x="806" y="301" width="1" height="71" fill="#000"/>
<rect x="805" y="302" width="3" height="65" fill="#000"/>
<rect x="810" y="321" width="1" height="48" fill="#000"/>
<rect x="809" y="356" width="3" height="11" fill="#000"/>
<rect x="810" y="357" width="1" height="9" fill="#fff"/>
<rect x="814" y="356" width="1" height="8" fill="#000"/>
<rect x="813" y="356" width="3" height="6" fill="#000"/>
<rect x="818" y="361" width="1" height="17" fill="#000"/>
<rect x="817" y="362" width="3" height="1" fill="#000"/>
<rect x="822" y="360" width="1" height="14" fill="#000"/>
<rect x="821" y="362" width="3" height="3" fill="#000"/>
<rect x="826" y="363" width="1" height="21" fill="#000"/>
<rect x="825" y="364" width="3" height="8" fill="#000"/>
<rect x="830" y="363" width="1" height="40" fill="#000"/>
<rect x="829" y="371" width="3" height="16" fill="#000"/>
<rect x="834" y="385" width="1" height="27" fill="#000"/>
<rect x="833" y="387" width="3" height="14" fill="#000"/>
<rect x="838" y="396" width="1" height="14" fill="#000"/>
<rect x="837" y="400" width="3" height="1" fill="#000"/>
<rect x="842" y="385" width="1" height="15" fill="#000"/>
<rect x="841" y="385" width="3" height="13" fill="#000"/>
<rect x="842" y="386" width="1" height="11" fill="#fff"/>
<rect x="846" y="379" width="1" height="8" fill="#000"/>
<rect x="845" y="385" width="3" height="1" fill="#000"/>
<rect x="850" y="372" width="1" height="22" fill="#000"/>
<rect x="849" y="380" width="3" height="5" fill="#000"/>
<rect x="850" y="381" width="1" height="3" fill="#fff"/>
<rect x="854" y="371" width="1" height="35" fill="#000"/>
<rect x="853" y="380" width="3" height="20" fill="#000"/>
<rect x="858" y="391" width="1" height="24" fill="#000"/>
<rect x="857" y="399" width="3" height="4" fill="#000"/>
<rect x="862" y="398" width="1" height="6" fill="#000"/>
<rect x="861" y="399" width="3" height="4" fill="#000"/>
<rect x="862" y="400" width="1" height="2" fill="#fff"/>
<rect x="866" y="396" width="1" height="35" fill="#000"/>
<rect x="865" y="398" width="3" height="14" fill="#000"/>
<rect x="870" y="396" width="1" height="26" fill="#000"/>
<rect x="869" y="407" width="3" height="5" fill="#000"/>
<rect x="870" y="408" width="1" height="3" fill="#fff"/>
<rect x="874" y="400" width="1" height="14" fill="#000"/>
<rect x="873" y="407" width="3" height="1" fill="#000"/>
<rect x="878" y="367" width="1" height="49" fill="#000"/>
<rect x="877" y="376" width="3" height="31" fill="#000"/>
<rect x="878" y="377" width="1" height="29" fill="#fff"/>
<rect x="882" y="375" width="1" height="22" fill="#000"/>
<rect x="881" y="377" width="3" height="13" fill="#000"/>
<rect x="886" y="388" width="1" height="6" fill="#000"/>
<rect x="885" y="390" width="3" height="2" fill="#000"/>
<rect x="890" y="371" width="1" height="18" fill="#000"/>
<rect x="889" y="384" width="3" height="3" fill="#000"/>
<rect x="890" y="385" width="1" height="1" fill="#fff"/>
<rect x="894" y="360" width="1" height="30" fill="#000"/>
<rect x="893" y="368" width="3" height="16" fill="#000"/>
<rect x="894" y="369" width="1" height="14" fill="#fff"/>
<rect x="898" y="351" width="1" height="23" fill="#000"/>
<rect x="897" y="358" width="3" height="11" fill="#000"/>
<rect x="898" y="359" width="1" height="9" fill="#fff"/>
<rect x="902" y="333" width="1" height="31" fill="#000"/>
<rect x="901" y="340" width="3" height="18" fill="#000"/>
<rect x="902" y="341" width="1" height="16" fill="#fff"/>
<rect x="906" y="324" width="1" height="20" fill="#000"/>
<rect x="905" y="332" width="3" height="8" fill="#000"/>
<rect x="906" y="333" width="1" height="6" fill="#fff"/>
<rect x="910" y="329" width="1" height="9" fill="#000"/>
<rect x="909" y="330" width="3" height="3" fill="#000"/>
<rect x="910" y="331" width="1" height="1" fill="#fff"/>
<rect x="914" y="317" width="1" height="21" fill="#000"/>
<rect x="913" y="318" width="3" height="11" fill="#000"/>
<rect x="914" y="319" width="1" height="9" fill="#fff"/>
<rect x="918" y="317" width="1" height="13" fill="#000"/>
<rect x="917" y="318" width="3" height="7" fill="#000"/>
<rect x="922" y="323" width="1" height="20" fill="#000"/>
<rect x="921" y="325" width="3" height="14" fill="#000"/>
<rect x="926" y="323" width="1" height="36" fill="#000"/>
<rect x="925" y="338" width="3" height="9" fill="#000"/>
<rect x="930" y="327" width="1" height="25" fill="#000"/>
<rect x="929" y="342" width="3" height="5" fill="#000"/>
<rect x="930" y="343" width="1" height="3" fill="#fff"/>
<rect x="934" y="337" width="1" height="7" fill="#000"/>
<rect x="933" y="338" width="3" height="5" fill="#000"/>
<rect x="934" y="339" width="1" height="3" fill="#fff"/>
<rect x="938" y="322" width="1" height="19" fill="#000"/>
<rect x="937" y="328" width="3" height="11" fill="#000"/>
<rect x="938" y="329" width="1" height="9" fill="#fff"/>
<rect x="942" y="327" width="1" height="11" fill="#000"/>
<rect x="941" y="328" width="3" height="4" fill="#000"/>
<rect x="946" y="329" width="1" height="14" fill="#000"/>
<rect x="945" y="332" width="3" height="4" fill="#000"/>
<rect x="950" y="329" width="1" height="55" fill="#000"/>
<rect x="949" y="335" width="3" height="45" fill="#000"/>
<rect x="954" y="341" width="1" height="42" fill="#000"/>
<rect x="953" y="355" width="3" height="25" fill="#000"/>
<rect x="954" y="356" width="1" height="23" fill="#fff"/>
<rect x="958" y="338" width="1" height="20" fill="#000"/>
<rect x="957" y="340" width="3" height="16" fill="#000"/>
<rect x="958" y="341" width="1" height="14" fill="#fff"/>
<rect x="962" y="338" width="1" height="24" fill="#000"/>
<rect x="961" y="339" width="3" height="19" fill="#000"/>
<rect x="966" y="346" width="1" height="18" fill="#000"/>
<rect x="965" y="357" width="3" height="1" fill="#000"/>
<rect x="970" y="356" width="1" height="20" fill="#000"/>
<rect x="969" y="356" width="3" height="5" fill="#000"/>
<rect x="974" y="359" width="1" height="36" fill="#000"/>
<rect x="973" y="360" width="3" height="28" fill="#000"/>
<rect x="978" y="384" width="1" height="37" fill="#000"/>
<rect x="977" y="388" width="3" height="7" fill="#000"/>
<rect x="982" y="392" width="1" height="22" fill="#000"/>
<rect x="981" y="394" width="3" height="18" fill="#000"/>
<rect x="986" y="399" width="1" height="22" fill="#000"/>
<rect x="985" y="405" width="3" height="5" fill="#000"/>
<rect x="986" y="406" width="1" height="3" fill="#fff"/>
<rect x="990" y="401" width="1" height="35" fill="#000"/>
<rect x="989" y="405" width="3" height="22" fill="#000"/>
<rect x="994" y="424" width="1" height="18" fill="#000"/>
<rect x="993" y="426" width="3" height="6" fill="#000"/>
</g>
<polygon points="996,2 1005.2,2 1000.6,7" fill="#b4b4b4"/>
<g font-family='"Liberation Sans", Arial, sans-serif'>
<text x="16.9" y="13" font-size="10.17" fill="#000" textLength="40.80" lengthAdjust="spacingAndGlyphs">GOLD,H4</text>
<text x="63.6" y="13" font-size="10.17" fill="#000" textLength="141.50" lengthAdjust="spacingAndGlyphs">1762.67 1763.72 1755.32 1760.13</text>
<text x="6" y="467" font-size="10.17" fill="#000" textLength="68.30" lengthAdjust="spacingAndGlyphs">RSI(14) 30.9569</text>
<text x="6" y="666" font-size="10.17" fill="#000" textLength="113.00" lengthAdjust="spacingAndGlyphs">Sto(5,3,3) 17.7016 18.7763</text>
</g>
<polygon points="5,8 12,8 8.5,12" fill="#000"/>
<g fill="none" stroke-linejoin="round" shape-rendering="crispEdges">
<polyline points="2.5,552.9 6.5,551.8 10.5,546.1 14.5,547.2 18.5,551.8 22.5,539.5 26.5,535.4 30.5,530.8 34.5,536.5 38.5,543.7 42.5,536.9 46.5,536.9 50.5,535.7 54.5,530.3 58.5,506.9 62.5,505.5 66.5,498.9 70.5,495.1 74.5,494.0 78.5,495.1 82.5,502.7 86.5,501.7 90.5,497.8 94.5,500.9 98.5,496.9 102.5,499.7 106.5,513.8 110.5,512.4 114.5,503.2 118.5,538.8 122.5,567.1 126.5,559.0 130.5,561.8 134.5,551.0 138.5,563.6 142.5,565.7 146.5,559.9 150.5,561.8 154.5,563.3 158.5,568.7 162.5,580.9 166.5,597.0 170.5,608.1 174.5,598.9 178.5,602.8 182.5,590.9 186.5,585.8 190.5,590.9 194.5,586.0 198.5,587.1 202.5,582.5 206.5,569.9 210.5,569.9 214.5,582.0 218.5,575.2 222.5,568.7 226.5,564.1 230.5,564.1 234.5,568.2 238.5,564.1 242.5,566.4 246.5,574.3 250.5,578.9 254.5,576.8 258.5,578.6 262.5,571.0 266.5,564.8 270.5,567.6 274.5,559.9 278.5,562.5 282.5,557.2 286.5,573.3 290.5,582.0 294.5,582.0 298.5,580.9 302.5,568.2 306.5,572.9 310.5,572.0 314.5,565.6 318.5,562.5 322.5,560.5 326.5,555.2 330.5,566.8 334.5,559.0 338.5,559.9 342.5,545.7 346.5,542.6 350.5,540.3 354.5,538.5 358.5,524.2 362.5,521.1 366.5,520.8 370.5,518.1 374.5,525.7 378.5,538.0 382.5,534.2 386.5,531.1 390.5,547.6 394.5,547.2 398.5,561.4 402.5,563.7 406.5,554.1 410.5,554.9 414.5,556.4 418.5,563.7 422.5,543.8 426.5,554.9 430.5,552.9 434.5,554.5 438.5,547.2 442.5,558.7 446.5,564.8 450.5,553.0 454.5,559.8 458.5,561.8 462.5,566.0 466.5,564.8 470.5,568.2 474.5,581.2 478.5,564.8 482.5,566.4 486.5,575.9 490.5,575.9 494.5,568.3 498.5,546.1 502.5,564.8 506.5,562.1 510.5,563.0 514.5,550.3 518.5,541.5 522.5,533.1 526.5,551.8 530.5,553.8 534.5,541.1 538.5,536.9 542.5,543.8 546.5,540.0 550.5,544.9 554.5,544.9 558.5,546.9 562.5,552.6 566.5,560.2 570.5,578.9 574.5,577.9 578.5,572.9 582.5,565.9 586.5,569.9 590.5,575.1 594.5,572.9 598.5,574.8 602.5,575.2 606.5,587.8 610.5,586.0 614.5,595.2 618.5,613.3 622.5,601.6 626.5,598.9 630.5,597.8 634.5,591.6 638.5,575.9 642.5,579.8 646.5,569.0 650.5,569.0 654.5,567.6 658.5,559.9 662.5,560.5 666.5,538.8 670.5,539.8 674.5,540.8 678.5,528.8 682.5,530.6 686.5,528.8 690.5,538.5 694.5,541.1 698.5,537.2 702.5,533.1 706.5,529.9 710.5,533.9 714.5,533.9 718.5,531.9 722.5,532.2 726.5,544.9 730.5,536.9 734.5,541.8 738.5,538.0 742.5,569.7 746.5,569.0 750.5,576.8 754.5,578.2 758.5,575.1 762.5,582.9 766.5,566.0 770.5,571.0 774.5,559.9 778.5,568.3 782.5,569.9 786.5,569.9 790.5,568.7 794.5,558.2 798.5,557.9 802.5,559.8 806.5,598.9 810.5,589.0 814.5,590.9 818.5,592.1 822.5,593.2 826.5,595.5 830.5,602.4 834.5,607.0 838.5,605.8 842.5,590.1 846.5,589.8 850.5,585.2 854.5,593.6 858.5,595.9 862.5,592.1 866.5,598.2 870.5,593.2 874.5,592.9 878.5,561.0 882.5,569.1 886.5,571.0 890.5,564.1 894.5,551.0 898.5,542.6 902.5,533.1 906.5,528.5 910.5,526.5 914.5,520.8 918.5,528.0 922.5,539.5 926.5,546.9 930.5,543.8 934.5,541.1 938.5,534.9 942.5,538.0 946.5,540.3 950.5,574.0 954.5,555.2 958.5,546.9 962.5,557.9 966.5,556.8 970.5,559.5 974.5,574.8 978.5,577.9 982.5,585.1 986.5,581.2 990.5,588.6 994.5,590.1" stroke="#1e90ff" stroke-width="1"/>
<polyline points="2.5,773.4 6.5,755.2 10.5,740.6 14.5,723.7 18.5,719.1 22.5,710.7 26.5,695.1 30.5,657.8 34.5,686.9 38.5,720.7 42.5,739.1 46.5,748.3 50.5,741.4 54.5,729.1 58.5,684.6 62.5,671.6 66.5,665.0 70.5,662.9 74.5,662.4 78.5,664.7 82.5,676.2 86.5,693.1 90.5,696.9 94.5,704.3 98.5,688.9 102.5,695.7 106.5,707.6 110.5,752.1 114.5,743.7 118.5,762.8 122.5,787.6 126.5,804.8 130.5,800.2 134.5,783.4 138.5,781.8 142.5,779.5 146.5,791.0 150.5,792.9 154.5,784.9 158.5,804.1 162.5,802.5 166.5,816.3 170.5,820.9 174.5,820.9 178.5,812.5 182.5,797.2 186.5,772.6 190.5,743.5 194.5,715.0 198.5,722.6 202.5,716.1 206.5,700.0 210.5,685.7 214.5,723.0 218.5,765.7 222.5,772.9 226.5,724.5 230.5,696.1 234.5,696.1 238.5,701.5 242.5,733.7 246.5,765.7 250.5,799.9 254.5,797.9 258.5,795.6 262.5,773.4 266.5,751.2 270.5,733.5 274.5,721.7 278.5,726.8 282.5,709.9 286.5,753.6 290.5,787.2 294.5,819.8 298.5,804.1 302.5,768.8 306.5,738.3 310.5,712.2 314.5,693.1 318.5,688.5 322.5,685.9 326.5,687.4 330.5,714.5 334.5,723.7 338.5,756.7 342.5,700.0 346.5,683.9 350.5,673.9 354.5,693.1 358.5,686.2 362.5,676.2 366.5,660.1 370.5,658.6 374.5,667.0 378.5,691.5 382.5,739.8 386.5,749.0 390.5,761.3 394.5,777.2 398.5,818.6 402.5,792.6 406.5,770.3 410.5,744.3 414.5,727.6 418.5,725.3 422.5,716.1 426.5,732.9 430.5,742.1 434.5,768.8 438.5,750.2 442.5,757.3 446.5,769.6 450.5,779.5 454.5,787.2 458.5,786.4 462.5,804.5 466.5,799.5 470.5,795.6 474.5,795.6 478.5,768.0 482.5,751.9 486.5,751.2 490.5,770.3 494.5,782.6 498.5,747.3 502.5,758.8 506.5,768.8 510.5,798.7 514.5,780.3 518.5,747.3 522.5,718.7 526.5,736.8 530.5,764.2 534.5,773.9 538.5,755.0 542.5,736.4 546.5,734.5 550.5,742.9 554.5,752.4 558.5,774.2 562.5,804.8 566.5,812.5 570.5,819.8 574.5,819.8 578.5,811.7 582.5,789.5 586.5,774.2 590.5,768.3 594.5,779.5 598.5,794.9 602.5,795.3 606.5,815.9 610.5,808.2 614.5,821.7 618.5,830.1 622.5,834.7 626.5,826.3 630.5,812.5 634.5,797.2 638.5,756.5 642.5,727.6 646.5,703.0 650.5,709.2 654.5,703.0 658.5,698.4 662.5,696.1 666.5,681.9 670.5,691.5 674.5,696.9 678.5,687.4 682.5,680.8 686.5,680.0 690.5,713.0 694.5,751.3 698.5,778.8 702.5,769.3 706.5,740.4 710.5,727.9 714.5,746.7 718.5,765.0 722.5,774.2 726.5,786.4 730.5,789.2 734.5,784.1 738.5,755.0 742.5,776.9 746.5,800.2 750.5,827.8 754.5,838.2 758.5,827.1 762.5,812.5 766.5,780.3 770.5,760.1 774.5,734.9 778.5,746.3 782.5,754.8 786.5,776.5 790.5,803.3 794.5,774.2 798.5,741.4 802.5,711.9 806.5,777.2 810.5,808.2 814.5,825.1 818.5,816.8 822.5,818.6 826.5,814.8 830.5,809.4 834.5,803.3 838.5,797.9 842.5,788.0 846.5,762.7 850.5,729.1 854.5,747.5 858.5,764.4 862.5,791.8 866.5,788.0 870.5,779.5 874.5,770.3 878.5,726.8 882.5,712.2 886.5,716.8 890.5,728.8 894.5,716.5 898.5,694.1 902.5,681.6 906.5,679.3 910.5,676.7 914.5,670.8 918.5,671.6 922.5,696.1 926.5,747.5 930.5,788.7 934.5,768.8 938.5,745.2 942.5,723.0 946.5,713.8 950.5,779.5 954.5,786.7 958.5,765.0 962.5,739.1 966.5,736.0 970.5,750.6 974.5,777.2 978.5,791.8 982.5,811.7 986.5,804.8 990.5,818.6 994.5,815.9" stroke="#20b2aa" stroke-width="1"/>
<polyline points="2.5,783.4 6.5,768.2 10.5,753.6 14.5,739.1 18.5,726.8 22.5,717.6 26.5,707.6 30.5,686.9 34.5,678.5 38.5,688.5 42.5,714.5 46.5,733.7 50.5,743.2 54.5,739.1 58.5,718.4 62.5,695.1 66.5,673.9 70.5,666.5 74.5,662.4 78.5,662.9 82.5,667.0 86.5,677.7 90.5,688.5 94.5,697.7 98.5,696.6 102.5,695.7 106.5,700.0 110.5,718.1 114.5,734.5 118.5,752.9 122.5,766.5 126.5,788.0 130.5,798.4 134.5,796.4 138.5,788.0 142.5,781.8 146.5,784.6 150.5,788.0 154.5,789.8 158.5,794.1 162.5,796.4 166.5,807.9 170.5,814.0 174.5,820.2 178.5,820.2 182.5,811.0 186.5,794.9 190.5,770.3 194.5,743.2 198.5,726.8 202.5,718.4 206.5,713.0 210.5,701.5 214.5,701.8 218.5,726.0 222.5,753.5 226.5,755.8 230.5,727.6 234.5,706.1 238.5,699.2 242.5,709.2 246.5,735.2 250.5,768.8 254.5,788.7 258.5,796.8 262.5,788.7 266.5,771.4 270.5,751.9 274.5,735.2 278.5,727.6 282.5,719.9 286.5,730.6 290.5,750.6 294.5,782.6 298.5,804.1 302.5,795.6 306.5,762.7 310.5,739.1 314.5,714.5 318.5,697.7 322.5,689.2 326.5,687.2 330.5,696.1 334.5,709.2 338.5,731.4 342.5,726.8 346.5,713.8 350.5,687.7 354.5,683.9 358.5,684.6 362.5,684.6 366.5,673.9 370.5,665.0 374.5,661.9 378.5,672.4 382.5,699.2 386.5,726.8 390.5,749.0 394.5,762.8 398.5,788.7 402.5,797.9 406.5,797.9 410.5,774.9 414.5,747.3 418.5,732.2 422.5,723.0 426.5,725.3 430.5,730.9 434.5,748.3 438.5,753.6 442.5,757.8 446.5,758.1 450.5,768.8 454.5,778.8 458.5,784.9 462.5,792.6 466.5,796.4 470.5,799.5 474.5,797.2 478.5,788.7 482.5,773.4 486.5,758.1 490.5,758.1 494.5,768.8 498.5,767.3 502.5,763.4 506.5,759.1 510.5,774.9 514.5,782.6 518.5,772.6 522.5,755.0 526.5,734.5 530.5,739.5 534.5,757.3 538.5,763.4 542.5,755.0 546.5,742.1 550.5,738.3 554.5,743.7 558.5,757.5 562.5,778.0 566.5,796.4 570.5,811.0 574.5,817.1 578.5,817.4 582.5,807.9 586.5,791.8 590.5,779.5 594.5,774.9 598.5,781.1 602.5,789.5 606.5,801.0 610.5,805.6 614.5,815.6 618.5,822.5 622.5,830.1 626.5,830.6 630.5,824.8 634.5,812.5 638.5,784.9 642.5,759.6 646.5,732.2 650.5,713.8 654.5,706.1 658.5,703.8 662.5,699.2 666.5,692.3 670.5,690.0 674.5,690.5 678.5,693.1 682.5,688.5 686.5,682.8 690.5,691.5 694.5,715.3 698.5,747.5 702.5,769.6 706.5,762.7 710.5,746.0 714.5,738.3 718.5,746.3 722.5,761.9 726.5,775.4 730.5,783.4 734.5,786.7 738.5,778.0 742.5,775.7 746.5,780.6 750.5,802.5 754.5,821.7 758.5,833.9 762.5,828.6 766.5,806.4 770.5,782.6 774.5,758.5 778.5,747.5 782.5,746.3 786.5,762.8 790.5,779.5 794.5,788.0 798.5,771.9 802.5,743.2 806.5,748.3 810.5,773.4 814.5,808.7 818.5,817.4 822.5,819.8 826.5,816.8 830.5,813.3 834.5,808.2 838.5,803.3 842.5,795.6 846.5,783.4 850.5,760.4 854.5,746.0 858.5,746.3 862.5,768.9 866.5,781.1 870.5,786.7 874.5,776.5 878.5,755.2 882.5,735.2 886.5,718.7 890.5,718.7 894.5,719.9 898.5,713.0 902.5,697.7 906.5,686.2 910.5,680.0 914.5,676.2 918.5,673.6 922.5,681.3 926.5,708.4 930.5,744.4 934.5,771.1 938.5,767.3 942.5,746.0 946.5,726.0 950.5,739.5 954.5,759.6 958.5,777.2 962.5,762.7 966.5,747.5 970.5,743.2 974.5,757.5 978.5,773.4 982.5,794.9 986.5,803.3 990.5,811.3 994.5,812.8" stroke="#ff0000" stroke-width="1"/>
</g>
<g shape-rendering="crispEdges">
<rect x="1392" y="20" width="2" height="1" fill="#000"/>
<rect x="1392" y="53" width="2" height="1" fill="#000"/>
<rect x="1392" y="86" width="2" height="1" fill="#000"/>
<rect x="1392" y="119" width="2" height="1" fill="#000"/>
<rect x="1392" y="152" width="2" height="1" fill="#000"/>
<rect x="1392" y="185" width="2" height="1" fill="#000"/>
<rect x="1392" y="218" width="2" height="1" fill="#000"/>
<rect x="1392" y="251" width="2" height="1" fill="#000"/>
<rect x="1392" y="284" width="2" height="1" fill="#000"/>
<rect x="1392" y="317" width="2" height="1" fill="#000"/>
<rect x="1392" y="350" width="2" height="1" fill="#000"/>
<rect x="1392" y="383" width="2" height="1" fill="#000"/>
<rect x="1392" y="416" width="2" height="1" fill="#000"/>
<rect x="1392" y="449" width="2" height="1" fill="#000"/>
<rect x="1392" y="456" width="1" height="1" fill="#000"/>
<rect x="1392" y="650" width="1" height="1" fill="#000"/>
<rect x="1392" y="655" width="1" height="1" fill="#000"/>
<rect x="1392" y="848" width="1" height="1" fill="#000"/>
<rect x="2" y="850" width="1" height="3" fill="#000"/>
<rect x="66" y="850" width="1" height="3" fill="#000"/>
<rect x="130" y="850" width="1" height="3" fill="#000"/>
<rect x="194" y="850" width="1" height="3" fill="#000"/>
<rect x="258" y="850" width="1" height="3" fill="#000"/>
<rect x="322" y="850" width="1" height="3" fill="#000"/>
<rect x="386" y="850" width="1" height="3" fill="#000"/>
<rect x="450" y="850" width="1" height="3" fill="#000"/>
<rect x="514" y="850" width="1" height="3" fill="#000"/>
<rect x="578" y="850" width="1" height="3" fill="#000"/>
<rect x="642" y="850" width="1" height="3" fill="#000"/>
<rect x="706" y="850" width="1" height="3" fill="#000"/>
<rect x="770" y="850" width="1" height="3" fill="#000"/>
<rect x="834" y="850" width="1" height="3" fill="#000"/>
<rect x="898" y="850" width="1" height="3" fill="#000"/>
<rect x="962" y="850" width="1" height="3" fill="#000"/>
<rect x="1393" y="426" width="41" height="11" fill="#000"/>
</g>
<g font-family='"Liberation Sans", Arial, sans-serif'>
<text x="1396.9" y="24" font-size="10.17" fill="#000" textLength="33.20" lengthAdjust="spacingAndGlyphs">1960.35</text>
<text x="1396.9" y="57" font-size="10.17" fill="#000" textLength="33.20" lengthAdjust="spacingAndGlyphs">1944.15</text>
<text x="1396.9" y="90" font-size="10.17" fill="#000" textLength="33.20" lengthAdjust="spacingAndGlyphs">1928.40</text>
<text x="1396.9" y="123" font-size="10.17" fill="#000" textLength="33.20" lengthAdjust="spacingAndGlyphs">1912.20</text>
<text x="1396.9" y="156" font-size="10.17" fill="#000" textLength="33.20" lengthAdjust="spacingAndGlyphs">1896.00</text>
<text x="1396.9" y="189" font-size="10.17" fill="#000" textLength="33.20" lengthAdjust="spacingAndGlyphs">1880.25</text>
<text x="1396.9" y="222" font-size="10.17" fill="#000" textLength="33.20" lengthAdjust="spacingAndGlyphs">1864.05</text>
<text x="1396.9" y="255" font-size="10.17" fill="#000" textLength="33.20" lengthAdjust="spacingAndGlyphs">1847.85</text>
<text x="1396.9" y="288" font-size="10.17" fill="#000" textLength="33.20" lengthAdjust="spacingAndGlyphs">1831.65</text>
<text x="1396.9" y="321" font-size="10.17" fill="#000" textLength="33.20" lengthAdjust="spacingAndGlyphs">1815.90</text>
<text x="1396.9" y="354" font-size="10.17" fill="#000" textLength="33.20" lengthAdjust="spacingAndGlyphs">1799.70</text>
<text x="1396.9" y="387" font-size="10.17" fill="#000" textLength="33.20" lengthAdjust="spacingAndGlyphs">1783.50</text>
<text x="1396.9" y="420" font-size="10.17" fill="#000" textLength="33.20" lengthAdjust="spacingAndGlyphs">1767.30</text>
<text x="1396.9" y="453" font-size="10.17" fill="#000" textLength="33.20" lengthAdjust="spacingAndGlyphs">1751.55</text>
<text x="1396.9" y="435" font-size="10.17" fill="#fff" textLength="33.20" lengthAdjust="spacingAndGlyphs">1760.13</text>
<text x="1371.9" y="83" font-size="10.17" fill="#7e7e7e" textLength="18.00" lengthAdjust="spacingAndGlyphs">23.6</text>
<text x="1371.9" y="269" font-size="10.17" fill="#7e7e7e" textLength="18.00" lengthAdjust="spacingAndGlyphs">38.2</text>
<text x="1371.9" y="419" font-size="10.17" fill="#7e7e7e" textLength="18.00" lengthAdjust="spacingAndGlyphs">50.0</text>
<text x="1394.6" y="465" font-size="10.17" fill="#000" textLength="15.00" lengthAdjust="spacingAndGlyphs">100</text>
<text x="1393.8" y="518" font-size="10.17" fill="#000" textLength="10.40" lengthAdjust="spacingAndGlyphs">70</text>
<text x="1393.8" y="596" font-size="10.17" fill="#000" textLength="10.40" lengthAdjust="spacingAndGlyphs">30</text>
<text x="1394.6" y="648" font-size="10.17" fill="#000" textLength="5.20" lengthAdjust="spacingAndGlyphs">0</text>
<text x="1394.6" y="664" font-size="10.17" fill="#000" textLength="15.00" lengthAdjust="spacingAndGlyphs">100</text>
<text x="1393.8" y="697" font-size="10.17" fill="#000" textLength="10.40" lengthAdjust="spacingAndGlyphs">80</text>
<text x="1393.8" y="814" font-size="10.17" fill="#000" textLength="10.40" lengthAdjust="spacingAndGlyphs">20</text>
<text x="1394.6" y="846" font-size="10.17" fill="#000" textLength="5.20" lengthAdjust="spacingAndGlyphs">0</text>
<text x="0.8" y="862" font-size="10.17" fill="#000" textLength="51.90" lengthAdjust="spacingAndGlyphs">29 Dec 2020</text>
<text x="64.8" y="862" font-size="10.17" fill="#000" textLength="47.83" lengthAdjust="spacingAndGlyphs">4 Jan 15:00</text>
<text x="128.8" y="862" font-size="10.17" fill="#000" textLength="47.83" lengthAdjust="spacingAndGlyphs">7 Jan 07:00</text>
<text x="192.8" y="862" font-size="10.17" fill="#000" textLength="52.92" lengthAdjust="spacingAndGlyphs">11 Jan 23:00</text>
<text x="256.8" y="862" font-size="10.17" fill="#000" textLength="52.92" lengthAdjust="spacingAndGlyphs">14 Jan 15:00</text>
<text x="320.8" y="862" font-size="10.17" fill="#000" textLength="52.92" lengthAdjust="spacingAndGlyphs">19 Jan 11:00</text>
<text x="384.8" y="862" font-size="10.17" fill="#000" textLength="52.92" lengthAdjust="spacingAndGlyphs">22 Jan 03:00</text>
<text x="448.8" y="862" font-size="10.17" fill="#000" textLength="52.92" lengthAdjust="spacingAndGlyphs">26 Jan 19:00</text>
<text x="512.8" y="862" font-size="10.17" fill="#000" textLength="52.92" lengthAdjust="spacingAndGlyphs">29 Jan 11:00</text>
<text x="576.8" y="862" font-size="10.17" fill="#000" textLength="48.85" lengthAdjust="spacingAndGlyphs">3 Feb 03:00</text>
<text x="640.8" y="862" font-size="10.17" fill="#000" textLength="48.85" lengthAdjust="spacingAndGlyphs">5 Feb 19:00</text>
<text x="704.8" y="862" font-size="10.17" fill="#000" textLength="53.94" lengthAdjust="spacingAndGlyphs">10 Feb 11:00</text>
<text x="768.8" y="862" font-size="10.17" fill="#000" textLength="53.94" lengthAdjust="spacingAndGlyphs">13 Feb 03:00</text>
<text x="832.8" y="862" font-size="10.17" fill="#000" textLength="53.94" lengthAdjust="spacingAndGlyphs">17 Feb 23:00</text>
<text x="896.8" y="862" font-size="10.17" fill="#000" textLength="53.94" lengthAdjust="spacingAndGlyphs">22 Feb 15:00</text>
<text x="960.8" y="862" font-size="10.17" fill="#000" textLength="53.94" lengthAdjust="spacingAndGlyphs">25 Feb 07:00</text>
</g>
<defs>
<linearGradient id="oTL" gradientUnits="userSpaceOnUse" x1="-15" y1="-15" x2="-10.8" y2="-10.8"><stop offset="0" stop-color="#6a6a6a"/><stop offset="0.14" stop-color="#a8a8a8"/><stop offset="0.32" stop-color="#ffffff"/><stop offset="0.58" stop-color="#f2f2f2"/><stop offset="0.82" stop-color="#b0b0b0"/><stop offset="1" stop-color="#7c7c7c"/></linearGradient>
<linearGradient id="oTR" gradientUnits="userSpaceOnUse" x1="15" y1="-15" x2="10.8" y2="-10.8"><stop offset="0" stop-color="#9a9696"/><stop offset="0.22" stop-color="#6c6868"/><stop offset="0.55" stop-color="#3a3636"/><stop offset="0.85" stop-color="#585454"/><stop offset="1" stop-color="#7a7676"/></linearGradient>
<linearGradient id="oBL" gradientUnits="userSpaceOnUse" x1="-15" y1="15" x2="-10.8" y2="10.8"><stop offset="0" stop-color="#9c8810"/><stop offset="0.25" stop-color="#d6c61a"/><stop offset="0.55" stop-color="#f2e222"/><stop offset="0.82" stop-color="#cdb918"/><stop offset="1" stop-color="#5a480a"/></linearGradient>
<linearGradient id="oBR" gradientUnits="userSpaceOnUse" x1="15" y1="15" x2="10.8" y2="10.8"><stop offset="0" stop-color="#b8a024"/><stop offset="0.3" stop-color="#8e7a1a"/><stop offset="0.7" stop-color="#685612"/><stop offset="1" stop-color="#241a04"/></linearGradient>
<linearGradient id="iTL" gradientUnits="userSpaceOnUse" x1="-10.8" y1="-10.8" x2="-7.2" y2="-7.2"><stop offset="0" stop-color="#2a2626"/><stop offset="0.4" stop-color="#454141"/><stop offset="0.7" stop-color="#242020"/><stop offset="1" stop-color="#0a0606"/></linearGradient>
<linearGradient id="iTR" gradientUnits="userSpaceOnUse" x1="10.8" y1="-10.8" x2="7.2" y2="-7.2"><stop offset="0" stop-color="#bcbaba"/><stop offset="0.3" stop-color="#ffffff"/><stop offset="0.7" stop-color="#ececec"/><stop offset="1" stop-color="#c4c4c4"/></linearGradient>
<linearGradient id="iBL" gradientUnits="userSpaceOnUse" x1="-18" y1="0" x2="0" y2="18"><stop offset="0" stop-color="#241606"/><stop offset="0.5" stop-color="#7c5e18"/><stop offset="1" stop-color="#c4a82e"/></linearGradient>
<linearGradient id="iBR" gradientUnits="userSpaceOnUse" x1="10.8" y1="10.8" x2="7.2" y2="7.2"><stop offset="0" stop-color="#5c4a0e"/><stop offset="0.4" stop-color="#a89020"/><stop offset="1" stop-color="#dcc82c"/></linearGradient>
</defs>
<g transform="translate(1152.8,88) scale(1.0000)">
<polygon points="-30,0 0,-30 0,-21.6 -21.6,0" fill="url(#oTL)"/>
<polygon points="0,-30 30,0 21.6,0 0,-21.6" fill="url(#oTR)"/>
<polygon points="-30,0 -21.6,0 0,21.6 0,30" fill="url(#oBL)"/>
<polygon points="30,0 21.6,0 0,21.6 0,30" fill="url(#oBR)"/>
<polygon points="-21.6,0 0,-21.6 0,-14.4 -14.4,0" fill="url(#iTL)"/>
<polygon points="0,-21.6 21.6,0 14.4,0 0,-14.4" fill="url(#iTR)"/>
<polygon points="-21.6,0 -14.4,0 0,14.4 0,21.6" fill="url(#iBL)"/>
<polygon points="21.6,0 14.4,0 0,14.4 0,21.6" fill="url(#iBR)"/>
<path d="M0,-21.6 C0.6,-16.5 1.8,-13.4 4.6,-10.6 C3.4,-13.6 2.6,-17.4 0,-21.6Z" fill="#3a3434"/>
<polygon points="-8.8,-0.5 0.1,-9.4 9.2,-0.5 4.6,-0.5 0.1,-5.2 -4.4,-0.5" fill="#78b62a"/>
<polygon points="-8.8,0.6 0.1,9.5 9.2,0.6 4.6,0.6 0.1,5.4 -4.4,0.6" fill="#78b62a"/>
</g>
<g font-family='"Liberation Sans", Arial, sans-serif'>
<text transform="translate(1196.10,83.00) scale(0.2070,0.2326)" font-size="100" font-weight="700" fill="#54585a" stroke="#54585a" stroke-width="2.4">S</text>
<text transform="translate(1209.32,83.00) scale(0.2360,0.1860)" font-size="100" font-weight="700" fill="#54585a" stroke="#54585a" stroke-width="2.4">I</text>
<text transform="translate(1214.70,83.00) scale(0.2534,0.2326)" font-size="100" font-weight="700" fill="#54585a" stroke="#54585a" stroke-width="2.4">N</text>
<text transform="translate(1231.70,83.00) scale(0.2447,0.2326)" font-size="100" font-weight="700" fill="#54585a" stroke="#54585a" stroke-width="2.4">O</text>
<text transform="translate(1254.90,83.00) scale(0.2086,0.2326)" font-size="100" font-weight="700" fill="#54585a" stroke="#54585a" stroke-width="2.4">S</text>
<text transform="translate(1268.21,83.00) scale(0.2403,0.2326)" font-size="100" font-weight="700" fill="#54585a" stroke="#54585a" stroke-width="2.4">O</text>
<text transform="translate(1286.26,83.00) scale(0.2229,0.2326)" font-size="100" font-weight="700" fill="#54585a" stroke="#54585a" stroke-width="2.4">U</text>
<text transform="translate(1301.72,83.00) scale(0.2517,0.2326)" font-size="100" font-weight="700" fill="#54585a" stroke="#54585a" stroke-width="2.4">N</text>
<text transform="translate(1319.33,83.00) scale(0.1745,0.2326)" font-size="100" font-weight="700" fill="#54585a" stroke="#54585a" stroke-width="2.4">D</text>
</g>
<polygon points="1210.7,70 1210.7,68.4 1215.4,66 1213.2,70" fill="#78b62a"/>
<text x="1195.6" y="106" font-family='"Liberation Sans", "Noto Sans CJK TC", sans-serif' font-weight="700" font-size="20.8" fill="#54585a" stroke="#54585a" stroke-width="0.3">漢</text>
<text x="1233.9" y="106" font-family='"Liberation Sans", "Noto Sans CJK TC", sans-serif' font-weight="700" font-size="20.8" fill="#54585a" stroke="#54585a" stroke-width="0.3">聲</text>
<text x="1272.2" y="106" font-family='"Liberation Sans", "Noto Sans CJK TC", sans-serif' font-weight="700" font-size="20.8" fill="#54585a" stroke="#54585a" stroke-width="0.3">金</text>
<text x="1310.5" y="106" font-family='"Liberation Sans", "Noto Sans CJK TC", sans-serif' font-weight="700" font-size="20.8" fill="#54585a" stroke="#54585a" stroke-width="0.3">業</text>
<g transform="translate(1293.3,840) scale(0.7500)">
<polygon points="-30,0 0,-30 0,-21.6 -21.6,0" fill="url(#oTL)"/>
<polygon points="0,-30 30,0 21.6,0 0,-21.6" fill="url(#oTR)"/>
<polygon points="-30,0 -21.6,0 0,21.6 0,30" fill="url(#oBL)"/>
<polygon points="30,0 21.6,0 0,21.6 0,30" fill="url(#oBR)"/>
<polygon points="-21.6,0 0,-21.6 0,-14.4 -14.4,0" fill="url(#iTL)"/>
<polygon points="0,-21.6 21.6,0 14.4,0 0,-14.4" fill="url(#iTR)"/>
<polygon points="-21.6,0 -14.4,0 0,14.4 0,21.6" fill="url(#iBL)"/>
<polygon points="21.6,0 14.4,0 0,14.4 0,21.6" fill="url(#iBR)"/>
<path d="M0,-21.6 C0.6,-16.5 1.8,-13.4 4.6,-10.6 C3.4,-13.6 2.6,-17.4 0,-21.6Z" fill="#3a3434"/>
<polygon points="-8.8,-0.5 0.1,-9.4 9.2,-0.5 4.6,-0.5 0.1,-5.2 -4.4,-0.5" fill="#78b62a"/>
<polygon points="-8.8,0.6 0.1,9.5 9.2,0.6 4.6,0.6 0.1,5.4 -4.4,0.6" fill="#78b62a"/>
</g>
<text x="1326" y="837.6" font-family='"Liberation Sans", Arial, sans-serif' font-weight="700" font-size="19.4" fill="#fff" textLength="107" lengthAdjust="spacingAndGlyphs">SINO SOUND</text>
<polygon points="1337.6,827.2 1337.6,825.6 1341.6,823.7 1339.6,827.2" fill="#78b62a"/>
<text x="1326" y="854.7" font-family='"Liberation Sans", "Noto Sans CJK TC", sans-serif' font-weight="700" font-size="16" fill="#a0a0a0">漢</text>
<text x="1355.9" y="854.7" font-family='"Liberation Sans", "Noto Sans CJK TC", sans-serif' font-weight="700" font-size="16" fill="#a0a0a0">聲</text>
<text x="1385.8" y="854.7" font-family='"Liberation Sans", "Noto Sans CJK TC", sans-serif' font-weight="700" font-size="16" fill="#a0a0a0">集</text>
<text x="1415.7" y="854.7" font-family='"Liberation Sans", "Noto Sans CJK TC", sans-serif' font-weight="700" font-size="16" fill="#a0a0a0">團</text>
</svg>
</body></html>
